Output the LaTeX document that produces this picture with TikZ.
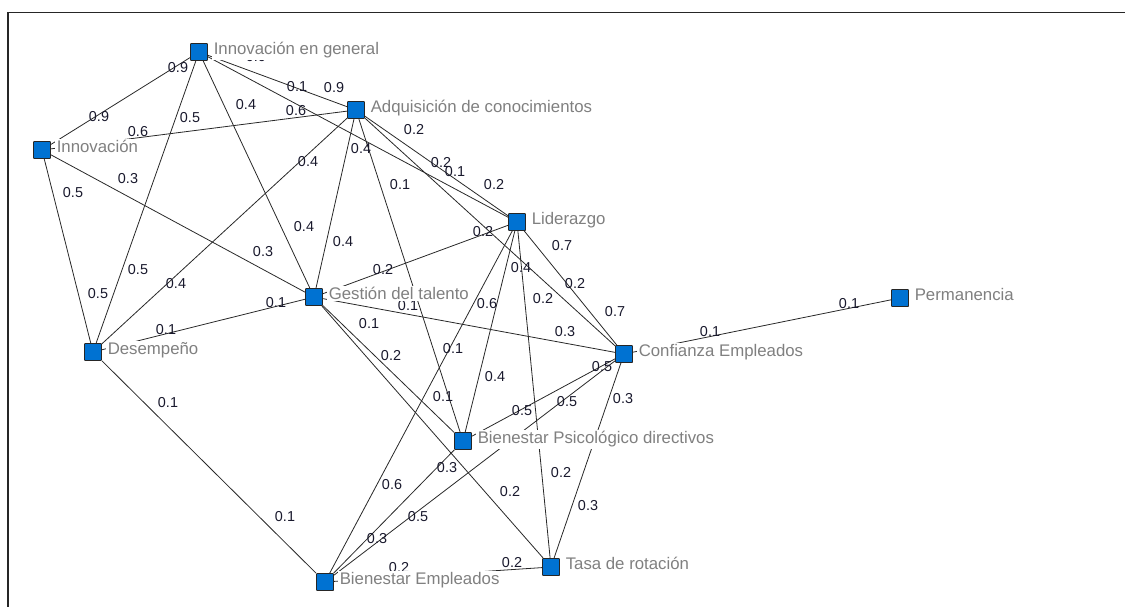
\documentclass[tikz,border=0pt]{standalone}
\usepackage{fontspec}
\setmainfont{Liberation Sans}
\usetikzlibrary{calc}
\definecolor{nodeblue}{RGB}{0,114,210}
\definecolor{labgray}{RGB}{128,128,128}
\definecolor{edgecol}{RGB}{40,40,40}
\definecolor{wcol}{RGB}{25,25,45}
\tikzset{
  nd/.style={draw=black!85, fill=nodeblue, minimum size=12.75pt, inner sep=0pt, line width=0.7pt, rounded corners=0.5pt},
  ed/.style={draw=edgecol, line width=0.6pt},
  wt/.style={font=\fontsize{10.8pt}{12pt}\selectfont, text=wcol, inner sep=0pt},
  lab/.style={font=\fontsize{12.6pt}{14pt}\selectfont, text=labgray, fill=white, inner xsep=1pt, inner ysep=1.2pt, anchor=base west},
  frame/.style={draw=black!85, line width=1.3pt}
}
\begin{document}
\begin{tikzpicture}[x=0.75pt, y=-0.75pt]
\useasboundingbox (0,0) rectangle (1125,607);
\draw[frame] (8,608) -- (8,12.5) -- (1126,12.5);

% nodes
\node[nd] (IG) at (199,52) {};
\node[nd] (AC) at (356,110) {};
\node[nd] (IN) at (42,150) {};
\node[nd] (LI) at (517,222) {};
\node[nd] (GT) at (314,297) {};
\node[nd] (DE) at (93,352) {};
\node[nd] (CE) at (624,354) {};
\node[nd] (PE) at (900,298) {};
\node[nd] (BP) at (463,441) {};
\node[nd] (TR) at (551,567) {};
\node[nd] (BE) at (325,582) {};

% edges
\foreach \a/\b in {IN/IG, IN/AC, IN/DE, IN/GT, IG/AC, IG/LI, IG/DE, IG/GT,
  AC/DE, AC/GT, AC/LI, AC/CE, AC/BP, DE/GT, DE/BE, GT/LI, GT/CE, GT/BP, GT/TR,
  LI/CE, LI/BE, LI/BP, LI/TR, CE/PE, CE/BP, CE/BE, CE/TR, BP/BE, BE/TR}
  \draw[ed] (\a) -- (\b);

% edge weights
\foreach \x/\y/\t [count=\i] in {178/68/0.9, 99/117/0.9, 190/118/0.5, 246/105/0.4,
  297/87/0.1, 334/88/0.9, 296/111/0.6, 138/132/0.6, 361/149/0.4, 308/162/0.4,
  128/179/0.3, 73/193/0.5, 256/57/0.9, 414/130/0.2, 441/163/0.2, 455/172/0.1,
  400/185/0.1, 494/185/0.2, 483/232/0.2, 562/246/0.7, 304/227/0.4, 343/242/0.4,
  263/252/0.3, 383/270/0.2, 521/268/0.4, 575/284/0.2, 138/270/0.5, 176/284/0.4,
  98/294/0.5, 276/303/0.1, 408/306/0.1, 487/304/0.6, 543/299/0.2, 615/312/0.7,
  166/330/0.1, 369/324/0.1, 565/332/0.3, 710/332/0.1, 849/304/0.1, 453/349/0.1,
  391/356/0.2, 495/377/0.4, 602/367/0.5, 168/403/0.1, 443/397/0.1, 623/399/0.3,
  522/411/0.5, 567/402/0.5, 447/468/0.3, 392/485/0.6, 561/473/0.2, 510/492/0.2,
  285/517/0.1, 418/517/0.5, 588/506/0.3, 377/539/0.3, 512/563/0.2, 399/568/0.2}
  \node[wt] (w\i) at (\x,\y) {\t};

% node labels
\node[lab] (IGl) at ($(IG.east)+(4.2,2.7)$) {Innovación en general};
\node[lab] (ACl) at ($(AC.east)+(4.2,2.7)$) {Adquisición de conocimientos};
\node[lab] (INl) at ($(IN.east)+(4.2,2.7)$) {Innovación};
\node[lab] (LIl) at ($(LI.east)+(4.2,2.7)$) {Liderazgo};
\node[lab] (GTl) at ($(GT.east)+(4.2,2.7)$) {Gestión del talento};
\node[lab] (DEl) at ($(DE.east)+(4.2,2.7)$) {Desempeño};
\node[lab] (CEl) at ($(CE.east)+(4.2,2.7)$) {Confianza Empleados};
\node[lab] (PEl) at ($(PE.east)+(4.2,2.7)$) {Permanencia};
\node[lab] (BPl) at ($(BP.east)+(4.2,2.7)$) {Bienestar Psicológico directivos};
\node[lab] (TRl) at ($(TR.east)+(4.2,2.7)$) {Tasa de rotación};
\node[lab] (BEl) at ($(BE.east)+(4.2,2.7)$) {Bienestar Empleados};
\end{tikzpicture}
\end{document}
